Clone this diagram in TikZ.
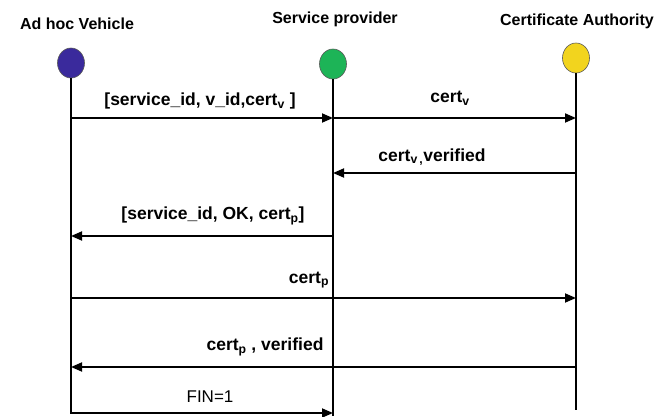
\documentclass[tikz,border=0pt]{standalone}
\usepackage{fontspec}
\setmainfont{Liberation Sans}
\usetikzlibrary{arrows.meta,shapes.geometric}
\definecolor{vehc}{HTML}{3A2A9C}
\definecolor{spc}{HTML}{1DB457}
\definecolor{cac}{HTML}{F2D41E}
\begin{document}
\begin{tikzpicture}[x=1pt,y=-1pt,
  title/.style={font=\fontsize{16}{18}\selectfont\bfseries, inner sep=0pt},
  lbl/.style={font=\fontsize{17.5}{19}\selectfont\bfseries, inner sep=0pt},
  actor/.style={ellipse, draw=gray!70!black, line width=0.6pt, minimum width=27pt, minimum height=30pt, inner sep=0pt},
  life/.style={line width=2.4pt},
  msg/.style={line width=1.8pt, -{Triangle[length=11pt,width=9pt]}}]
\useasboundingbox (0,0) rectangle (670,417);
% titles
\node[title] (tv) at (77,24) {Ad hoc Vehicle};
\node[title] (ts) at (335,19) {Service provider};
\node[title] (tc) at (577,21) {Certificate Authority};
% actors
\node[actor, fill=vehc] (v) at (71,63) {};
\node[actor, fill=spc] (s) at (333,64) {};
\node[actor, fill=cac] (c) at (576,58) {};
% lifeline end points
\coordinate (v1) at (71,118);
\coordinate (s1) at (333,118);
\coordinate (c1) at (576,118);
\coordinate (s2) at (333,173);
\coordinate (c2) at (576,173);
\coordinate (v3) at (71,236);
\coordinate (s3) at (333,236);
\coordinate (v4) at (71,298);
\coordinate (c4) at (576,298);
\coordinate (v5) at (71,367);
\coordinate (c5) at (576,367);
\coordinate (v6) at (71,413);
\coordinate (s6) at (333,413);
\coordinate (vend) at (71,414.2);
\coordinate (send) at (333,416);
\coordinate (cend) at (576,410);
% lifelines
\draw[life] (v.south) -- (vend);
\draw[life] (s.south) -- (send);
\draw[life] (c.south) -- (cend);
% messages
\draw[msg] (v1) -- (s1);
\draw[msg] (s1) -- (c1);
\draw[msg] (c2) -- (s2);
\draw[msg] (s3) -- (v3);
\draw[msg] (v4) -- (c4);
\draw[msg] (c5) -- (v5);
\draw[msg] (v6) -- (s6);
% labels
\node[lbl] (l1) at (200,101) {[service\_id, v\_id,cert\textsubscript{v} ]};
\node[lbl] (l2) at (450,98) {cert\textsubscript{v}};
\node[lbl] (l3) at (432,157) {cert\textsubscript{v\,,}verified};
\node[lbl] (l4) at (213,216) {[service\_id, OK, cert\textsubscript{p}]};
\node[lbl] (l5) at (309,280) {cert\textsubscript{p}};
\node[lbl] (l6) at (265,347) {cert\textsubscript{p} , verified};
\node[font=\fontsize{17}{19}\selectfont, inner sep=0pt] (l7) at (210,397) {FIN=1};
\end{tikzpicture}
\end{document}
